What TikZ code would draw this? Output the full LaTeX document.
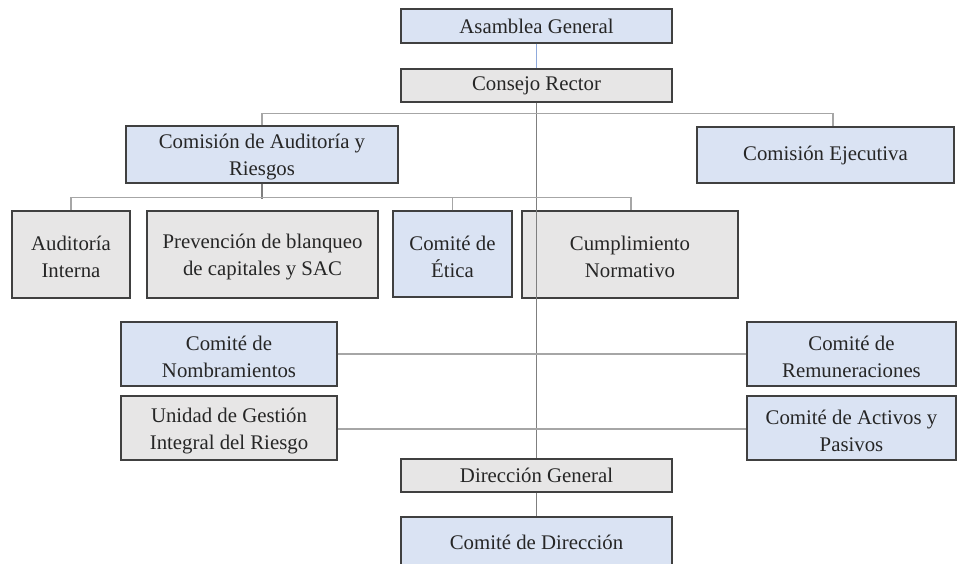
\documentclass[tikz,border=0pt]{standalone}
\usepackage{fontspec}
\setmainfont{Liberation Serif}
\usetikzlibrary{calc}
\definecolor{bluefill}{HTML}{DAE3F3}
\definecolor{greyfill}{HTML}{E7E6E6}
\definecolor{boxline}{HTML}{404040}
\definecolor{hline}{HTML}{A6A6A6}
\definecolor{vline}{HTML}{7F7F7F}
\definecolor{topline}{HTML}{8FAADC}
\newcommand{\toplinestrut}{\rule{0pt}{15pt}}
\tikzset{
  orgbox/.style={draw=boxline, line width=1.1pt, rectangle, align=center, inner sep=0pt,
    font=\fontsize{15.6}{20.3}\selectfont, text=black!85},
  bluebox/.style={orgbox, fill=bluefill},
  greybox/.style={orgbox, fill=greyfill},
  hconn/.style={draw=hline, line width=0.9pt},
  vconn/.style={draw=vline, line width=0.9pt},
}
\begin{document}
\begin{tikzpicture}[x=0.75pt,y=-0.75pt]
\useasboundingbox (0,0) rectangle (957,564);
% boxes
\node[bluebox, minimum width=271*0.75pt, minimum height=34*0.75pt] (A) at (536.5,26) {Asamblea General};
\node[greybox, minimum width=271*0.75pt, minimum height=33*0.75pt] (C) at (536.5,85.5) {Consejo Rector};
\node[bluebox, minimum width=272*0.75pt, minimum height=57*0.75pt] (CAR) at (262,154.5) {\toplinestrut Comisión de Auditoría y\\Riesgos};
\node[bluebox, minimum width=257*0.75pt, minimum height=56*0.75pt] (CE) at (825.5,155) {Comisión Ejecutiva};
\node[greybox, minimum width=118*0.75pt, minimum height=87*0.75pt] (AI) at (71,254.5) {\toplinestrut Auditoría\\Interna};
\node[greybox, minimum width=231*0.75pt, minimum height=87*0.75pt] (PB) at (262.5,254.5) {\toplinestrut Prevención de blanqueo\\de capitales y SAC};
\node[bluebox, minimum width=119*0.75pt, minimum height=86*0.75pt] (CEt) at (452.5,254) {\toplinestrut Comité de\\Ética};
\node[greybox, minimum width=216*0.75pt, minimum height=87*0.75pt] (CN) at (630,254.5) {\toplinestrut Cumplimiento\\Normativo};
\node[bluebox, minimum width=216*0.75pt, minimum height=64*0.75pt] (CNom) at (229,354) {\toplinestrut Comité de\\Nombramientos};
\node[greybox, minimum width=216*0.75pt, minimum height=64*0.75pt] (UG) at (229,428) {\toplinestrut Unidad de Gestión\\Integral del Riesgo};
\node[bluebox, minimum width=209*0.75pt, minimum height=64*0.75pt] (CR) at (851.5,354) {\toplinestrut Comité de\\Remuneraciones};
\node[bluebox, minimum width=209*0.75pt, minimum height=64*0.75pt] (CAP) at (851.5,428) {\toplinestrut Comité de Activos y\\Pasivos};
\node[greybox, minimum width=271*0.75pt, minimum height=33*0.75pt] (DG) at (536.5,475.5) {Dirección General};
\node[bluebox, minimum width=271*0.75pt, minimum height=58*0.75pt] (CD) at (536.5,546) {};
\node[font=\fontsize{15.6}{20.3}\selectfont, text=black!85, inner sep=0pt] (CDt) at (536.5,542) {Comité de Dirección};
% connectors
\draw[draw=topline, line width=0.9pt] (A.south) -- (C.north);
\draw[vconn] (C.south) -- (DG.north);
\draw[vconn] (DG.south) -- (CD.north);
\coordinate (ceDrop) at ($(CE.north)+(7.5,0)$);
\draw[hconn] (CAR.north) -- ++(0,-12) -| (ceDrop);
\coordinate (carLow) at ($(CAR.south)+(0,15)$);
\draw[vconn] (CAR.south) -- (carLow);
\coordinate (cnDrop) at ($(CN.north)+(1,0)$);
\draw[hconn] (AI.north) -- ++(0,-13) -| (cnDrop);
\draw[hconn] (CEt.north) -- ++(0,-13);
\draw[hconn] (CNom.east) -- (CR.west);
\draw[hconn] ($(UG.east)+(0,1)$) -- ($(CAP.west)+(0,1)$);
\end{tikzpicture}
\end{document}
